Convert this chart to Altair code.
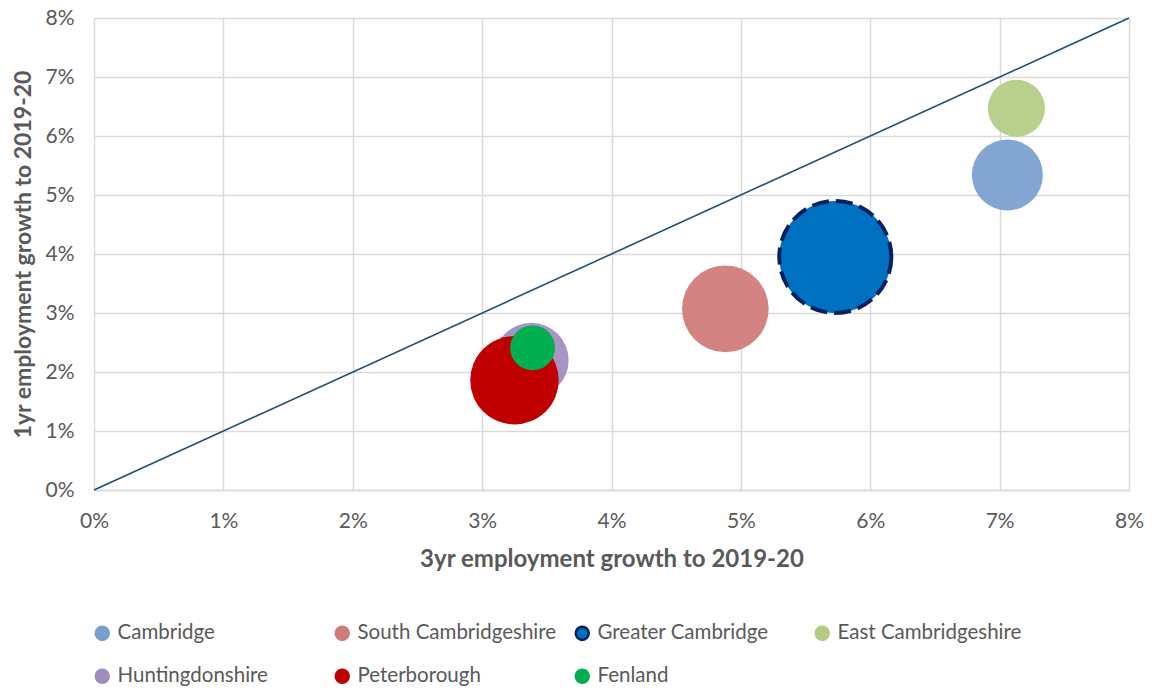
import altair as alt
import pandas as pd

regions = ["Cambridge", "South Cambridgeshire", "Greater Cambridge", "East Cambridgeshire",
           "Huntingdonshire", "Peterborough", "Fenland"]
growth_3yr = [0.0706, 0.0488, 0.0573, 0.0713, 0.0338, 0.0325, 0.0339]
growth_1yr = [0.0534, 0.0307, 0.0395, 0.0647, 0.0220, 0.0186, 0.0241]
employment = [65, 97, 162, 42, 72, 101, 26]  # bubble size (relative employment)
fill_colors = ["#789FCD", "#D07B78", "#0070C0", "#B3CC82", "#A08CBF", "#C00000", "#00B050"]
stroke_colors = ["#789FCD", "#D07B78", "#002060", "#B3CC82", "#A08CBF", "#C00000", "#00B050"]

line_x = [0.0, 0.08]
line_y = [0.0, 0.08]

df = pd.DataFrame({"region": regions, "g3": growth_3yr, "g1": growth_1yr,
                   "emp": employment, "idx": list(range(len(regions)))})
line_df = pd.DataFrame({"x": line_x, "y": line_y})

FONT = "Lato"
GREY = "#595959"
GRID = "#D9D9D9"

xscale = alt.Scale(domain=[0, 0.08], nice=False)
yscale = alt.Scale(domain=[0, 0.08], nice=False)

xaxis = alt.Axis(format=".0%", values=[i / 100 for i in range(9)], title="3yr employment growth to 2019-20",
                 labelFontSize=21, labelColor=GREY, labelFont=FONT, labelPadding=20, labelFlush=False,
                 titleFontSize=24, titleFont=FONT, titleColor=GREY, titleFontWeight="bold", titlePadding=16,
                 grid=True, gridColor=GRID, gridWidth=1.5, ticks=False, domainColor=GRID, domainWidth=1.5)
yaxis = alt.Axis(format=".0%", values=[i / 100 for i in range(9)], title="1yr employment growth to 2019-20",
                 labelFontSize=21, labelColor=GREY, labelFont=FONT, labelPadding=20, labelFlush=False,
                 titleFontSize=23, titleFont=FONT, titleColor=GREY, titleFontWeight="bold", titlePadding=9,
                 grid=True, gridColor=GRID, gridWidth=1.5, ticks=False, domain=False)

diag = alt.Chart(line_df).mark_line(color="#1F4E79", strokeWidth=1.6).encode(
    x=alt.X("x:Q", scale=xscale, axis=xaxis),
    y=alt.Y("y:Q", scale=yscale, axis=yaxis),
)

is_gc = "datum.region == 'Greater Cambridge'"
light = "indexof(['Cambridge','South Cambridgeshire','East Cambridgeshire','Huntingdonshire'], datum.region) >= 0"

bubbles = alt.Chart(df).mark_circle(opacity=1).encode(
    x=alt.X("g3:Q", scale=xscale),
    y=alt.Y("g1:Q", scale=yscale),
    size=alt.Size("emp:Q", scale=alt.Scale(domain=[0, 162], range=[0, (2 * 56) ** 2], zero=True), legend=None),
    fill=alt.Fill("region:N", scale=alt.Scale(domain=regions, range=fill_colors),
                  legend=alt.Legend(title=None, orient="none", legendX=-2, legendY=605,
                                    direction="horizontal", columns=4, gridAlign="all",
                                    labelFont=FONT, labelFontSize=20.5, labelColor=GREY, labelOffset=5,
                                    symbolSize=170, symbolStrokeWidth=2.5, symbolType="circle",
                                    columnPadding=13, rowPadding=19, labelLimit=400)),
    stroke=alt.Stroke("region:N", scale=alt.Scale(domain=regions, range=stroke_colors)),
    strokeWidth=alt.condition(is_gc, alt.value(4), alt.value(0)),
    strokeDash=alt.condition(is_gc, alt.value([17, 7]), alt.value([1, 0])),
    fillOpacity=alt.condition(light, alt.value(0.93), alt.value(1.0)),
    order=alt.Order("idx:Q"),
)

chart = alt.layer(diag, bubbles).properties(
    width=1035, height=472,
    autosize=alt.AutoSizeParams(type="none"),
    padding={"left": 86, "top": 10, "right": 16, "bottom": 196},
).configure_view(stroke=None)

chart.save("out.html", embed_options={"renderer": "svg", "actions": False})
